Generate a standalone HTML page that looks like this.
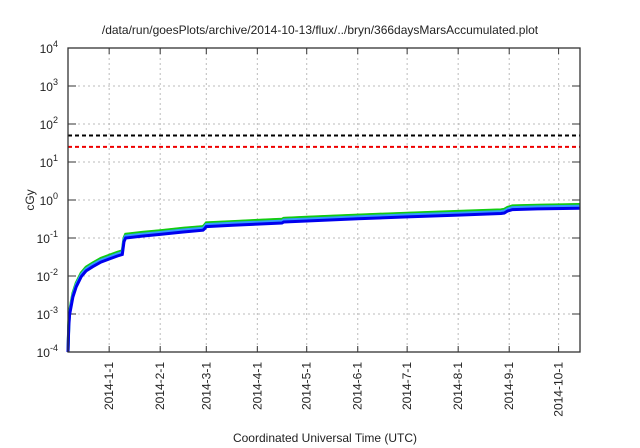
<!DOCTYPE html>
<html><head><meta charset="utf-8"><style>body{margin:0;background:#fff}svg{display:block;font-family:"Liberation Sans",sans-serif}</style></head>
<body>
<svg id="c" width="640" height="448" viewBox="0 0 640 448"></svg>
<script>
const days=[-25,-24.5,-24,-22,-20,-17,-14,-10,-5,0,5,8,9,10,20,31,45,57,58,59,75,90,105,106,120,151,181,212,238,240,242,245,260,286];
const green=[1e-4,6e-4,1.2e-3,3.5e-3,6.5e-3,1.2e-2,1.7e-2,2.2e-2,2.9e-2,3.5e-2,4.2e-2,4.6e-2,0.1,0.125,0.14,0.155,0.18,0.2,0.22,0.25,0.27,0.29,0.31,0.33,0.35,0.4,0.45,0.5,0.55,0.57,0.64,0.7,0.73,0.76];
const blueRatio=0.8;
const limitBlack=50, limitRed=25;
const yTicks=[-4,-3,-2,-1,0,1,2,3,4];
const xTickDays=[0,31,59,90,120,151,181,212,243,273];
const xTickLabels=["2014-1-1","2014-2-1","2014-3-1","2014-4-1","2014-5-1","2014-6-1","2014-7-1","2014-8-1","2014-9-1","2014-10-1"];
const L=68,R=580,T=48,B=352,d0=-25,d1=286;
const X=d=>L+(d-d0)/(d1-d0)*(R-L);
const Y=v=>T+(4-Math.log10(v))/8*(B-T);
const svg=document.getElementById('c');const NS="http://www.w3.org/2000/svg";
function el(t,a,txt){const e=document.createElementNS(NS,t);for(const k in a)e.setAttribute(k,a[k]);if(txt!==undefined)e.textContent=txt;svg.appendChild(e);return e;}
let e;
e=el('text',{x:320,y:34,'text-anchor':'middle','font-size':12,fill:'#222'},'/data/run/goesPlots/archive/2014-10-13/flux/../bryn/366daysMarsAccumulated.plot');

yTicks.forEach(p=>{const y=Y(Math.pow(10,p));
 if(p>-4&&p<4){e=el('line',{x1:L,x2:R,y1:y,y2:y,stroke:'#bbb','stroke-dasharray':'2,3','stroke-width':1});}
 el('line',{x1:L,x2:L+8,y1:y,y2:y,stroke:'#333'});el('line',{x1:R,x2:R-8,y1:y,y2:y,stroke:'#333'});
 e=el('text',{x:L-10,y:y+5,'text-anchor':'end','font-size':12,fill:'#222'});
 e.innerHTML='10<tspan dy="-6" font-size="9">'+p+'</tspan>';
 });
xTickDays.forEach((d,i)=>{const x=X(d);
 e=el('line',{x1:x,x2:x,y1:T,y2:B,stroke:'#bbb','stroke-dasharray':'2,3'});
 el('line',{x1:x,x2:x,y1:B,y2:B-6,stroke:'#333'});el('line',{x1:x,x2:x,y1:T,y2:T+6,stroke:'#333'});
 e=el('text',{x:0,y:0,'text-anchor':'end','font-size':12,fill:'#222',transform:`translate(${x+4},${B+10}) rotate(-90)`},xTickLabels[i]);
 });
e=el('line',{x1:L,x2:R,y1:Y(limitBlack),y2:Y(limitBlack),stroke:'#000','stroke-width':2,'stroke-dasharray':'4,3'});
e=el('line',{x1:L,x2:R,y1:Y(limitRed),y2:Y(limitRed),stroke:'#e00','stroke-width':2,'stroke-dasharray':'4,3'});
const path=(f)=>days.map((d,i)=>(i?'L':'M')+X(d).toFixed(1)+','+Math.min(B,Y(f(green[i]))).toFixed(1)).join('');
e=el('path',{d:path(v=>v*1.03),fill:'none',stroke:'#e44','stroke-width':1.5});
e=el('path',{d:path(v=>v),fill:'none',stroke:'#1c1','stroke-width':3});
e=el('path',{d:path(v=>v*0.9),fill:'none',stroke:'#39f','stroke-width':3});
e=el('path',{d:path(v=>v*blueRatio),fill:'none',stroke:'#00e','stroke-width':3});
e=el('rect',{x:L,y:T,width:R-L,height:B-T,fill:'none',stroke:'#333','stroke-width':1.3});
e=el('text',{x:0,y:0,'text-anchor':'middle','font-size':12,fill:'#222',transform:'translate(34,200) rotate(-90)'},'cGy');
e=el('text',{x:325,y:442,'text-anchor':'middle','font-size':12,fill:'#222'},'Coordinated Universal Time (UTC)');
</script>
</body></html>
